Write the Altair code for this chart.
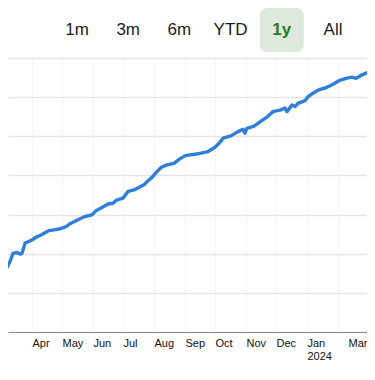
import altair as alt
import pandas as pd

# ---- data ----
dates = [
    "2023-03-03", "2023-03-07", "2023-03-10", "2023-03-13", "2023-03-17", "2023-03-20",
    "2023-03-22", "2023-03-25", "2023-04-01", "2023-04-05", "2023-04-10", "2023-04-18",
    "2023-04-23", "2023-04-28", "2023-05-05", "2023-05-10", "2023-05-18", "2023-05-24",
    "2023-05-31", "2023-06-04", "2023-06-10", "2023-06-16", "2023-06-21", "2023-06-24",
    "2023-07-01", "2023-07-06", "2023-07-12", "2023-07-22", "2023-07-25", "2023-07-30",
    "2023-08-04", "2023-08-09", "2023-08-14", "2023-08-21", "2023-08-26", "2023-09-01",
    "2023-09-04", "2023-09-11", "2023-09-17", "2023-09-24", "2023-10-01", "2023-10-05",
    "2023-10-09", "2023-10-17", "2023-10-24", "2023-10-29", "2023-10-31", "2023-11-02",
    "2023-11-09", "2023-11-15", "2023-11-22", "2023-11-28", "2023-12-05", "2023-12-10",
    "2023-12-12", "2023-12-17", "2023-12-20", "2023-12-23", "2023-12-30", "2024-01-02",
    "2024-01-07", "2024-01-14", "2024-01-20", "2024-01-27", "2024-02-02", "2024-02-09",
    "2024-02-15", "2024-02-19", "2024-02-25", "2024-03-03",
]
values = [
    16.5, 16.5, 18.0, 20.1, 20.3, 19.9,
    20.1, 22.7, 23.5, 24.2, 24.8, 25.9,
    26.1, 26.3, 26.9, 27.8, 28.8, 29.5,
    29.9, 31.0, 31.8, 32.7, 32.9, 33.6,
    34.2, 35.9, 36.3, 37.6, 38.4, 39.5,
    41.0, 42.2, 42.7, 43.1, 44.1, 45.0,
    45.2, 45.4, 45.7, 46.1, 47.2, 48.2,
    49.5, 50.1, 51.2, 51.8, 50.8, 52.0,
    52.6, 53.7, 54.9, 56.3, 56.7, 57.2,
    56.3, 58.0, 57.6, 58.4, 59.1, 60.1,
    61.0, 62.0, 62.4, 63.3, 64.2, 64.8,
    65.1, 64.8, 65.7, 66.4,
]
buttons = ["1m", "3m", "6m", "YTD", "1y", "All"]
selected = ["1y"]

df = pd.DataFrame({"date": dates, "value": values})
bdf = pd.DataFrame({"label": buttons, "sel": [b in selected for b in buttons]})

month_ticks = [alt.DateTime(year=2023, month=m, date=1, utc=True) for m in range(4, 13)] + \
              [alt.DateTime(year=2024, month=m, date=1, utc=True) for m in range(1, 4)]

label_expr = (
    "utcmonth(datum.value) == 1 ? '' : "
    "(utcmonth(datum.value) == 0 ? [utcFormat(datum.value, '%b'), utcFormat(datum.value, '%Y')] "
    ": utcFormat(datum.value, '%b'))"
)

x_scale = alt.Scale(
    type="utc",
    domain=[alt.DateTime(year=2023, month=3, date=8, utc=True),
            alt.DateTime(year=2024, month=3, date=1, utc=True)],
)

line = alt.Chart(df).mark_line(color="#2f7fd9", strokeWidth=3.4, clip=True,
                               strokeJoin="round", strokeCap="round").encode(
    x=alt.X("date:T", scale=x_scale,
            axis=alt.Axis(values=month_ticks, labelExpr=label_expr, title=None,
                          ticks=False,
                          labelAlign={"condition": {"test": "utcmonth(datum.value) == 2",
                                                    "value": "right"},
                                      "value": "left"},
                          labelOverlap=False, labelPadding=5, labelBound=False,
                          labelFont="Liberation Sans", labelFontSize=11,
                          labelColor="#111111", labelLineHeight=13,
                          domainColor="#8c8c8c", domainWidth=1,
                          grid=True, gridColor="#ececec", gridDash=[2, 2],
                          gridWidth=1)),
    y=alt.Y("value:Q", scale=alt.Scale(domain=[0, 70], nice=False, zero=False),
            axis=alt.Axis(values=list(range(0, 71, 10)), labels=False, ticks=False,
                          domain=False, title=None, grid=True,
                          gridColor="#e4e4e4", gridWidth=1.5)),
)

bx = alt.X("label:N", scale=alt.Scale(domain=buttons, range=[69, 325], padding=0),
           axis=None)

rounded = ("M -0.62 -1 L 0.62 -1 Q 1 -1 1 -0.62 L 1 0.62 Q 1 1 0.62 1 "
           "L -0.62 1 Q -1 1 -1 0.62 L -1 -0.62 Q -1 -1 -0.62 -1 Z")

highlight = alt.Chart(bdf).transform_filter("datum.sel").mark_point(
    shape=rounded, filled=True, fill="#dfe8dd", opacity=1, strokeWidth=0, size=44 * 44,
).encode(x=bx, y=alt.value(-28))

texts = alt.Chart(bdf).transform_filter("!datum.sel").mark_text(
    font="Liberation Sans", fontSize=17, baseline="middle", align="center",
    color="#1c1c1c",
).encode(x=bx, y=alt.value(-28), text="label:N")

texts_sel = alt.Chart(bdf).transform_filter("datum.sel").mark_text(
    font="Liberation Sans", fontSize=17, baseline="middle", align="center",
    color="#1f7a22", fontWeight="bold",
).encode(x=bx, y=alt.value(-28), text="label:N")

chart = alt.layer(line, highlight, texts, texts_sel).resolve_scale(x="independent").properties(
    width=359, height=274,
    padding={"left": 0, "top": 0, "right": 0, "bottom": 5},
).configure_view(stroke=None)

chart.save("out.html", embed_options={"renderer": "svg", "actions": False})
